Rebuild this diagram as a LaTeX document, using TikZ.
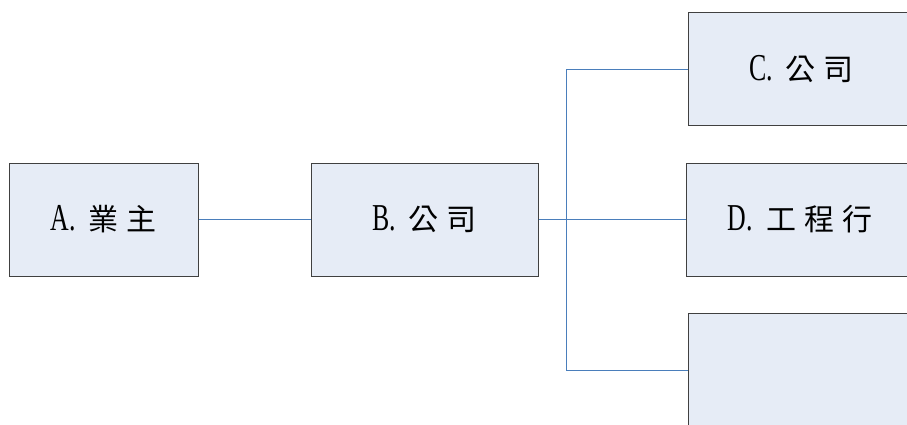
\documentclass[tikz,border=0pt]{standalone}
\usepackage{fontspec}
\newfontfamily\cjk{Noto Sans CJK TC}
\newfontfamily\lat[FakeStretch=0.68]{Liberation Serif}
\newcommand{\lab}[2]{{\fontsize{38}{40}\selectfont\lat #1.}\hspace{13pt}{\fontsize{30}{32}\selectfont\cjk #2}}
\begin{document}
\begin{tikzpicture}[x=1pt,y=-1pt,
  box/.style={draw=black!75, line width=1pt, fill=boxfill, inner sep=0pt, minimum height=113pt},
  link/.style={draw=linkblue, line width=1pt}]
\definecolor{boxfill}{HTML}{E6ECF6}
\definecolor{linkblue}{HTML}{4A7EBB}
\useasboundingbox (0,0) rectangle (907,425);
\node[box, minimum width=189pt] (A) at (103.5,219.5) {\lab{A}{業\hspace{8pt}主}};
\node[box, minimum width=227pt] (B) at (424.5,219.5) {\lab{B}{公\hspace{8pt}司}};
\node[box, minimum width=227pt] (C) at (801.5,69.5) {\lab{C}{公\hspace{8pt}司}};
\node[box, minimum width=227pt] (D) at (800,219.5) {\lab{D}{工\hspace{8pt}程\hspace{8pt}行}};
\node[box, minimum width=227pt] (E) at (801.5,370) {};
\coordinate (j) at (566,219.5);
\draw[link] (A.east) -- (B.west);
\draw[link] (B.east) -- (D.west);
\draw[link] (C.west) -- (C.west -| j) -- (E.west -| j) -- (E.west);
\end{tikzpicture}
\end{document}
